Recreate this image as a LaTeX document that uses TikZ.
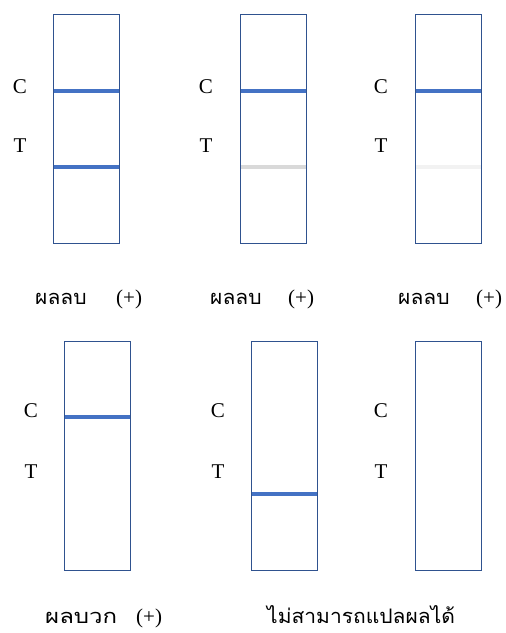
\documentclass[tikz,border=0pt]{standalone}
\usepackage{fontspec}
\usepackage{graphicx}
\setmainfont{Liberation Serif}
\newfontfamily\thaifont[Script=Thai]{Loma}
\definecolor{bandblue}{HTML}{4472C4}
\definecolor{edgeblue}{HTML}{2F528F}
\definecolor{faintA}{HTML}{D9D9D9}
\definecolor{faintB}{HTML}{F2F2F2}
\tikzset{
  strip/.style={draw=edgeblue, line width=0.9pt, fill=white, minimum width=66pt, minimum height=229pt, inner sep=0pt, anchor=north west},
  band/.style={line width=3.5pt},
  letter/.style={font=\fontsize{21}{21}\selectfont, anchor=center, inner sep=0pt},
  thai/.style={font=\thaifont\fontsize{20}{20}\selectfont, anchor=base west, inner sep=0pt, text depth=0pt},
  plus/.style={font=\fontsize{21}{21}\selectfont, anchor=base west, inner sep=0pt}
}
\begin{document}
\begin{tikzpicture}[x=1pt,y=-1pt]
\useasboundingbox (0,0) rectangle (506,633);
% row 1
\node[strip] (s1) at (53,14) {};
\node[strip] (s2) at (240,14) {};
\node[strip] (s3) at (415,14) {};
% row 2
\node[strip] (s4) at (64,341) {};
\node[strip] (s5) at (251,341) {};
\node[strip] (s6) at (415,341) {};
% bands row 1
\draw[band, bandblue] (s1.west |- 0,91) -- (s1.east |- 0,91);
\draw[band, bandblue] (s1.west |- 0,167) -- (s1.east |- 0,167);
\draw[band, bandblue] (s2.west |- 0,91) -- (s2.east |- 0,91);
\draw[band, faintA] (s2.west |- 0,167) -- (s2.east |- 0,167);
\draw[band, bandblue] (s3.west |- 0,91) -- (s3.east |- 0,91);
\draw[band, faintB] (s3.west |- 0,167) -- (s3.east |- 0,167);
% bands row 2
\draw[band, bandblue] (s4.west |- 0,417) -- (s4.east |- 0,417);
\draw[band, bandblue] (s5.west |- 0,494) -- (s5.east |- 0,494);
% redraw strip borders
\foreach \s in {s1,s2,s3,s4,s5,s6} \draw[edgeblue, line width=0.9pt] (\s.north west) rectangle (\s.south east);
% C / T labels
\node[letter] (c1) at (20,86.5) {C};
\node[letter] (t1) at (20,145.5) {T};
\node[letter] (c2) at (206,86.5) {C};
\node[letter] (t2) at (206,145.5) {T};
\node[letter] (c3) at (381,86.5) {C};
\node[letter] (t3) at (381,145.5) {T};
\node[letter] (c4) at (31,411) {C};
\node[letter] (t4) at (31,472) {T};
\node[letter] (c5) at (218,411) {C};
\node[letter] (t5) at (218,472) {T};
\node[letter] (c6) at (381,411) {C};
\node[letter] (t6) at (381,472) {T};
% result texts
\node[thai] (r1) at (35,304) {\scalebox{1.05}[1]{ผลลบ}};
\node[plus] (p1) at (116,304) {(+)};
\node[thai] (r2) at (210,304) {\scalebox{1.05}[1]{ผลลบ}};
\node[plus] (p2) at (288,304) {(+)};
\node[thai] (r3) at (398,304) {\scalebox{1.05}[1]{ผลลบ}};
\node[plus] (p3) at (476,304) {(+)};
\node[thai] (r4) at (45,623) {\scalebox{1.2}[1]{ผลบวก}};
\node[plus] (p4) at (136,623) {(+)};
\node[thai] (r5) at (267,623) {\scalebox{1.05}[1]{ไม่สามารถแปลผลได้}};
\end{tikzpicture}
\end{document}
